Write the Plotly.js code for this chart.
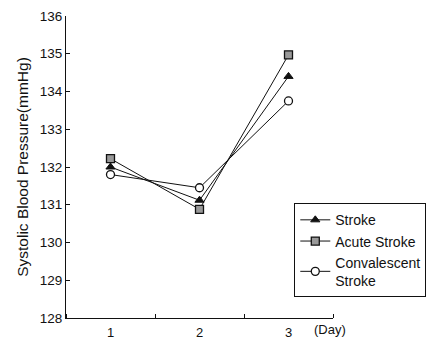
<!DOCTYPE html>
<html>
<head>
<meta charset="utf-8">
<script src="https://cdn.plot.ly/plotly-3.0.1.min.js"></script>
<style>html,body{margin:0;padding:0;background:#fff;}#chart{width:429px;height:341px;}</style>
</head>
<body>
<div id="chart"></div>
<script>
var days = [1, 2, 3];
var dayLabels = ['1', '2', '3'];
var stroke = [132.0, 131.12, 134.4];
var acuteStroke = [132.22, 130.88, 134.97];
var convalescentStroke = [131.8, 131.45, 133.75];
var yTicks = [128, 129, 130, 131, 132, 133, 134, 135, 136];

var lineStyle = {color: '#111', width: 1};
var traces = [
  {x: days, y: stroke, name: 'Stroke', mode: 'lines+markers', line: lineStyle,
   marker: {symbol: 'triangle-up', size: 8, color: '#111', line: {color: '#111', width: 1}}},
  {x: days, y: acuteStroke, name: 'Acute Stroke', mode: 'lines+markers', line: lineStyle,
   marker: {symbol: 'square', size: 8, color: '#999', line: {color: '#111', width: 1.3}}},
  {x: days, y: convalescentStroke, name: 'Convalescent<br>Stroke', mode: 'lines+markers', line: lineStyle,
   marker: {symbol: 'circle', size: 8, color: '#fff', line: {color: '#111', width: 1.3}}}
];

var font = {family: 'Liberation Sans, Arial, sans-serif', color: '#111'};
var layout = {
  width: 429, height: 341,
  margin: {l: 66, r: 96, t: 16, b: 23, autoexpand: false},
  paper_bgcolor: '#fff', plot_bgcolor: '#fff',
  font: {family: font.family, color: '#111', size: 13},
  showlegend: true,
  legend: {x: 0.855, xanchor: 'left', y: 0.38, yanchor: 'top',
    bordercolor: '#111', borderwidth: 1, bgcolor: '#fff',
    font: {size: 14, family: font.family, color: '#111'}, tracegroupgap: 1},
  xaxis: {range: [0.5, 3.5], tickvals: days, ticktext: dayLabels, ticks: '',
    showline: true, linecolor: '#111', linewidth: 1, showgrid: false, zeroline: false,
    tickfont: {size: 13}, ticklabelstandoff: 2,
    minor: {tick0: 0.5, dtick: 1, ticks: 'inside', ticklen: 4, tickcolor: '#111', showgrid: false}},
  yaxis: {range: [128, 136], tickvals: yTicks, ticks: 'inside', ticklen: 4, tickcolor: '#111',
    showline: true, linecolor: '#111', linewidth: 1, showgrid: false, zeroline: false,
    tickfont: {size: 13.5},
    title: {text: 'Systolic Blood Pressure(mmHg)', font: {size: 15.5}, standoff: 7}},
  annotations: [{x: 3.47, y: 0, xref: 'x', yref: 'paper', yanchor: 'top', yshift: -2,
    text: '(Day)', showarrow: false, font: {size: 13}}]
};
Plotly.newPlot('chart', traces, layout, {staticPlot: true});
</script>
</body>
</html>
